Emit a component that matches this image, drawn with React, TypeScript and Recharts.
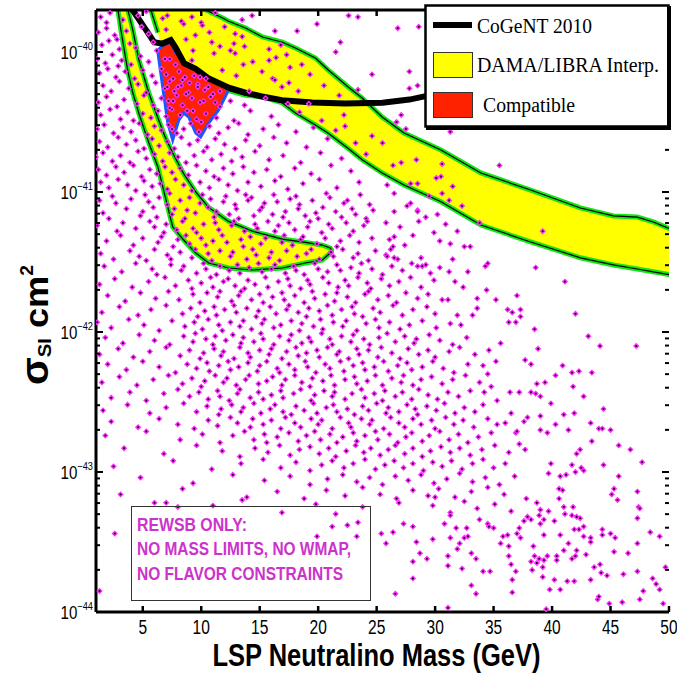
import { Area, ComposedChart, Line, Scatter, XAxis, YAxis } from "recharts"

const W = 677
const H = 673

const massTicks = [5, 10, 15, 20, 25, 30, 35, 40, 45, 50]
const decadeExponents = [-44, -43, -42, -41, -40]
const minorMultipliers = [2, 3, 4, 5, 6, 7, 8, 9]
const massDomain = [1, 50]
const logSigmaDomain = [-44, -39.7]

// CoGeNT 2010 curve: [mass GeV, log10 sigma]
const cogent2010 = [
	[3.9, -39.6], [4.13, -39.7], [5.26, -39.84], [5.97, -39.93], [6.68, -39.94], [7.39, -39.915],
	[7.82, -39.97], [8.53, -40.08], [9.52, -40.12], [10.66, -40.19], [12.36, -40.255], [13.78, -40.29],
	[15.2, -40.318], [16.9, -40.345], [19.5, -40.36], [22.3, -40.368], [25.5, -40.362], [27.8, -40.34],
	[29.5, -40.31], [31, -40.29],
]

// DAMA/LIBRA regions: [mass, log10 lower edge, log10 upper edge]
const damaUpperBand = [
	[5.69, -39.7, -39.6], [6.29, -39.86, -39.6], [6.88, -40.1, -39.6], [7.73, -40.35, -39.6],
	[9.01, -40.35, -39.6], [10.38, -40.32, -39.7], [11.83, -40.29, -39.757], [12.34, -40.275, -39.78],
	[13.79, -40.31, -39.829], [15.24, -40.321, -39.893], [16.94, -40.364, -39.93], [18.05, -40.436, -39.971],
	[19.76, -40.521, -40.043], [20.86, -40.58, -40.129], [22.57, -40.69, -40.25], [23.76, -40.77, -40.329],
	[25.47, -40.864, -40.464], [27.34, -40.95, -40.579], [30.5, -41.07, -40.7], [33.91, -41.236, -40.864],
	[38.17, -41.357, -40.986], [42.43, -41.47, -41.114], [45.25, -41.521, -41.171], [47.29, -41.55, -41.179],
	[48.66, -41.57, -41.214], [50, -41.59, -41.26], [50.6, -41.6, -41.27],
]

const damaLowerBand = [
	[2.88, -39.7, -39.6], [3.13, -39.843, -39.6], [3.56, -40.057, -39.6], [3.73, -40.14, -39.7],
	[4.15, -40.293, -39.843], [4.67, -40.44, -40.057], [5.52, -40.65, -40.293], [6.29, -40.821, -40.47],
	[6.88, -41.021, -40.6], [7.56, -41.25, -40.721], [8.5, -41.343, -40.87], [9.53, -41.436, -41.0],
	[10.63, -41.507, -41.11], [12.34, -41.543, -41.21], [14.38, -41.557, -41.28], [16.94, -41.543, -41.336],
	[18.9, -41.507, -41.36], [20.35, -41.486, -41.379], [21.03, -41.436, -41.4], [21.15, -41.42, -41.415],
]

const compatibleRegion = [
	[6.29, -40.0, -39.986], [6.8, -40.307, -39.95], [7.14, -40.507, -39.936], [7.39, -40.579, -39.929],
	[7.56, -40.629, -39.957], [7.82, -40.557, -40.007], [8.08, -40.486, -40.029], [8.5, -40.436, -40.071],
	[8.93, -40.464, -40.093], [9.53, -40.579, -40.114], [9.95, -40.607, -40.136], [10.63, -40.507, -40.186],
	[11.49, -40.414, -40.221], [12.34, -40.271, -40.257],
]

// model scan points, "mass,log10sigma"
const scanTop = `
1.4,-39.75 1.9,-39.79 2.2,-39.72 3.3,-39.77 4.6,-39.74 5.3,-39.71 6.7,-39.76 7.1,-39.74 8.3,-39.78 9.2,-39.75 10.0,-39.79 11.2,-39.72 13.5,-39.77
1.2,-39.86 1.9,-39.83 2.6,-39.88 3.6,-39.85 4.9,-39.82 5.5,-39.87 7.0,-39.84 8.5,-39.80 9.5,-39.88 10.1,-39.81 10.7,-39.86 12.0,-39.82 12.9,-39.87 13.5,-39.89
1.5,-39.95 2.1,-39.92 2.8,-39.91 3.0,-39.98 3.9,-39.94 4.4,-39.97 5.9,-39.93 6.2,-39.99 8.7,-39.91 9.3,-39.99 10.9,-39.93 11.6,-39.96 12.5,-39.99 12.8,-39.94 13.7,-39.96 15.8,-39.98 16.8,-39.95
1.1,-40.05 1.8,-40.08 2.4,-40.02 2.9,-40.10 3.2,-40.06 4.0,-40.09 4.8,-40.03 5.5,-40.07 7.3,-40.05 7.8,-40.09 9.2,-40.06 11.1,-40.01 12.9,-40.01 13.6,-40.09 14.4,-40.07 15.8,-40.06 16.4,-40.04 17.3,-40.02 18.6,-40.09
1.3,-40.15 2.0,-40.12 2.7,-40.18 3.5,-40.14 4.3,-40.19 5.0,-40.13 5.8,-40.17 6.6,-40.12 7.0,-40.16 7.6,-40.19 8.1,-40.14 8.6,-40.18 9.4,-40.17 10.4,-40.19 11.8,-40.13 13.0,-40.17 15.2,-40.14 16.1,-40.19 17.6,-40.11 19.3,-40.16
1.6,-40.24 2.3,-40.28 3.0,-40.21 3.8,-40.26 4.6,-40.23 5.3,-40.29 6.1,-40.22 6.9,-40.26 7.3,-40.21 7.7,-40.28 8.3,-40.24 8.9,-40.29 9.7,-40.23 10.3,-40.27 11.0,-40.30 14.1,-40.28 16.3,-40.20 16.9,-40.25 17.5,-40.22 18.3,-40.28 20.5,-40.24
1.2,-40.36 1.9,-40.32 2.8,-40.39 3.4,-40.34 4.5,-40.37 5.1,-40.31 5.9,-40.38 6.6,-40.33 7.2,-40.35 7.9,-40.31 8.4,-40.38 9.2,-40.33 9.9,-40.36 10.8,-40.32 11.6,-40.39 12.5,-40.35 13.7,-40.38 15.5,-40.33 17.4,-40.37 19.2,-40.37 21.8,-40.31
1.4,-40.45 2.2,-40.41 3.1,-40.48 3.7,-40.43 4.2,-40.49 5.0,-40.44 5.7,-40.47 6.3,-40.42 7.0,-40.46 7.5,-40.41 8.2,-40.45 8.8,-40.42 9.6,-40.48 10.4,-40.44 11.3,-40.47 12.8,-40.49 14.2,-40.42 16.0,-40.46 18.4,-40.43 20.3,-40.49 22.2,-40.45
`
const scanCompatible = `
6.9,-40.05 7.1,-40.25 7.3,-40.40 7.5,-40.55 8.0,-40.25 8.7,-40.30 9.0,-40.22 9.3,-40.42 9.7,-40.25 10.0,-40.50 10.2,-40.35 10.6,-40.25 11.2,-40.36 11.6,-40.28 7.6,-40.35 8.4,-40.20 9.9,-40.18
`
const scanAboveBand = `
14.35,-39.74 16.3,-39.85 18.2,-39.85 19.9,-39.80 21.9,-39.93 22.6,-39.74 23.4,-39.75 21.5,-40.00 24.6,-40.16 23.4,-40.27 26.8,-39.83 28.6,-39.82 27.8,-40.14 27.8,-40.26 28.5,-40.24
26.7,-40.50 27.1,-40.45 27.5,-40.55 31.3,-40.57 35.5,-40.81
25.5,-40.65 26.4,-40.81 27.1,-40.79 28.4,-40.77 30.6,-40.80 30.5,-40.89 30.1,-40.90 27.9,-40.94 28.5,-40.94 31.5,-40.96 30.6,-41.01 31.2,-41.06 32.3,-41.10 29.5,-41.03 26.5,-41.01 25.9,-40.95 27.9,-41.08 28.5,-41.13
`
const scanUpperMid = `
1.1,-40.55 1.7,-40.52 2.5,-40.58 3.3,-40.54 4.0,-40.57 4.7,-40.51 5.4,-40.59 6.0,-40.53 6.6,-40.56 7.2,-40.52 7.9,-40.58 8.5,-40.55 9.1,-40.51 9.8,-40.57 10.7,-40.53 11.5,-40.58 12.3,-40.54 13.2,-40.51 14.0,-40.59 15.3,-40.55 16.6,-40.52 18.1,-40.57 19.6,-40.54 21.5,-40.56 22.3,-40.53 24.6,-40.60
1.3,-40.64 2.0,-40.68 2.9,-40.61 3.6,-40.66 4.4,-40.63 5.1,-40.69 5.8,-40.62 6.4,-40.67 7.1,-40.64 7.7,-40.69 8.3,-40.61 9.0,-40.66 9.7,-40.63 10.5,-40.68 11.2,-40.62 12.0,-40.66 12.9,-40.69 13.8,-40.63 15.0,-40.67 16.2,-40.61 17.3,-40.65 19.0,-40.68 20.8,-40.62 23.2,-40.65
1.0,-40.75 1.6,-40.72 2.4,-40.78 3.1,-40.74 3.9,-40.79 4.6,-40.71 5.3,-40.76 6.0,-40.73 6.7,-40.78 7.3,-40.72 8.0,-40.75 8.7,-40.79 9.4,-40.74 10.2,-40.71 10.9,-40.77 11.7,-40.73 12.6,-40.78 13.5,-40.75 14.6,-40.71 15.8,-40.77 17.0,-40.74 18.5,-40.79 20.2,-40.72 22.0,-40.76 24.1,-40.73
1.2,-40.84 1.9,-40.88 2.7,-40.82 3.4,-40.86 4.2,-40.81 4.9,-40.89 5.6,-40.84 6.2,-40.87 6.9,-40.82 7.5,-40.86 8.2,-40.83 8.9,-40.88 9.6,-40.81 10.4,-40.85 11.1,-40.89 11.9,-40.83 12.7,-40.87 13.6,-40.82 14.5,-40.86 15.6,-40.84 16.8,-40.89 18.0,-40.83 19.4,-40.87 21.1,-40.81 22.8,-40.85
1.4,-40.93 2.1,-40.97 2.9,-40.91 3.7,-40.95 4.4,-40.99 5.1,-40.92 5.8,-40.96 6.5,-40.94 7.1,-40.98 7.8,-40.91 8.5,-40.95 9.2,-40.99 9.9,-40.93 10.7,-40.97 11.5,-40.91 12.3,-40.95 13.1,-40.99 14.0,-40.93 15.1,-40.96 16.3,-40.92 17.4,-40.98 18.7,-40.94 20.1,-40.91 21.6,-40.97 23.5,-40.93
`
const scanMid = `
1.3,-41.06 2.4,-41.03 2.7,-41.08 4.0,-41.05 5.2,-41.02 5.5,-41.07 6.4,-41.04 7.1,-41.09 7.3,-41.01 8.2,-41.06 9.0,-41.04 9.9,-41.08 10.1,-41.02 10.8,-41.05 11.9,-41.07 12.1,-41.03 12.9,-41.09 13.8,-41.02 14.0,-41.06 14.3,-41.04 15.4,-41.08 16.2,-41.02 16.5,-41.07 17.6,-41.05 18.1,-41.03 18.4,-41.09 19.5,-41.06 20.7,-41.01 21.0,-41.04 22.2,-41.08 22.5,-41.06 23.6,-41.02 24.4,-41.09
1.6,-41.15 2.1,-41.19 3.6,-41.12 4.8,-41.17 5.0,-41.14 5.9,-41.11 6.2,-41.18 7.5,-41.16 7.7,-41.12 8.6,-41.19 8.8,-41.13 9.5,-41.15 10.6,-41.11 11.1,-41.18 11.3,-41.14 12.4,-41.16 13.0,-41.12 13.2,-41.19 14.5,-41.17 15.0,-41.13 15.2,-41.11 16.1,-41.16 17.0,-41.18 17.2,-41.14 18.3,-41.12 18.9,-41.17 19.8,-41.15 20.0,-41.19 20.4,-41.11 21.5,-41.14 22.0,-41.18 22.9,-41.12 23.2,-41.16 24.1,-41.19 24.7,-41.13
1.1,-41.24 2.8,-41.28 3.3,-41.22 4.4,-41.26 5.6,-41.21 6.0,-41.25 6.8,-41.29 7.0,-41.23 7.9,-41.27 8.4,-41.21 9.3,-41.26 9.6,-41.29 10.2,-41.23 11.2,-41.22 11.5,-41.27 12.6,-41.24 12.8,-41.21 13.7,-41.28 14.6,-41.23 14.8,-41.26 15.7,-41.21 16.3,-41.28 16.6,-41.24 17.5,-41.22 18.0,-41.27 19.1,-41.25 19.3,-41.21 20.3,-41.29 20.9,-41.23 21.2,-41.26 22.4,-41.22 23.0,-41.28 23.9,-41.24 24.2,-41.21
1.9,-41.35 3.1,-41.31 4.2,-41.38 5.0,-41.33 6.3,-41.36 6.6,-41.32 7.6,-41.39 8.0,-41.34 8.7,-41.31 9.0,-41.37 10.0,-41.33 10.4,-41.38 11.0,-41.35 11.8,-41.31 12.2,-41.36 13.4,-41.34 13.6,-41.39 14.2,-41.32 15.1,-41.37 15.5,-41.33 16.9,-41.36 17.1,-41.31 17.8,-41.38 18.5,-41.34 18.7,-41.32 19.9,-41.37 20.6,-41.33 21.6,-41.39 21.9,-41.35 22.7,-41.31 23.5,-41.36 24.6,-41.33
1.4,-41.44 2.5,-41.48 3.9,-41.42 4.7,-41.46 5.3,-41.49 6.0,-41.41 7.1,-41.45 7.4,-41.48 8.2,-41.43 9.2,-41.47 9.5,-41.41 10.6,-41.44 10.9,-41.49 11.6,-41.42 12.5,-41.46 12.7,-41.43 13.9,-41.48 14.4,-41.41 14.7,-41.45 15.8,-41.47 16.0,-41.43 16.7,-41.49 17.3,-41.42 18.2,-41.46 19.0,-41.44 19.4,-41.41 20.1,-41.48 21.1,-41.43 21.3,-41.46 22.1,-41.41 23.0,-41.47 23.4,-41.44 24.3,-41.49 24.9,-41.42
1.7,-41.53 3.2,-41.57 4.4,-41.51 5.8,-41.55 6.2,-41.59 7.4,-41.52 8.3,-41.56 8.5,-41.53 9.6,-41.58 10.2,-41.51 10.4,-41.55 11.3,-41.59 11.6,-41.53 12.4,-41.56 13.1,-41.52 13.3,-41.58 14.1,-41.54 14.9,-41.51 15.2,-41.57 16.0,-41.55 16.3,-41.52 17.2,-41.58 17.9,-41.53 18.1,-41.56 18.8,-41.59 19.7,-41.51 20.0,-41.55 20.8,-41.57 21.6,-41.52 21.9,-41.56 22.8,-41.54 23.5,-41.58 23.7,-41.51 24.6,-41.55 25.5,-41.59 26.3,-41.53 27.2,-41.56 28.0,-41.51 29.6,-41.58 30.4,-41.54
1.3,-41.66 2.6,-41.62 4.1,-41.68 5.5,-41.64 6.9,-41.61 7.8,-41.67 8.9,-41.63 9.2,-41.69 10.0,-41.65 10.8,-41.61 11.0,-41.68 11.9,-41.64 12.3,-41.62 12.9,-41.67 13.7,-41.69 14.0,-41.63 14.6,-41.66 15.5,-41.61 15.7,-41.68 16.6,-41.64 17.4,-41.62 17.6,-41.67 18.5,-41.69 19.1,-41.63 19.3,-41.66 20.4,-41.61 20.9,-41.65 21.7,-41.68 22.3,-41.63 22.6,-41.67 23.4,-41.61 24.2,-41.65 24.5,-41.69 25.4,-41.62 26.1,-41.67 26.9,-41.64 27.9,-41.61 28.8,-41.68 29.9,-41.63
2.0,-41.74 3.5,-41.78 4.8,-41.72 6.1,-41.76 7.2,-41.71 8.1,-41.77 9.3,-41.73 9.9,-41.79 10.5,-41.72 11.4,-41.75 11.6,-41.71 12.6,-41.78 13.2,-41.74 13.4,-41.71 14.3,-41.77 15.0,-41.73 15.3,-41.79 16.1,-41.75 16.9,-41.72 17.1,-41.77 18.0,-41.74 18.8,-41.79 19.5,-41.71 19.7,-41.76 20.6,-41.73 21.4,-41.78 21.6,-41.72 22.5,-41.75 23.2,-41.79 24.0,-41.73 24.3,-41.71 25.1,-41.77 26.0,-41.74 26.7,-41.79 27.5,-41.72 28.5,-41.76 29.4,-41.73
1.5,-41.86 3.0,-41.82 4.6,-41.88 5.7,-41.84 7.0,-41.81 8.4,-41.87 9.1,-41.83 9.7,-41.89 10.3,-41.85 11.1,-41.82 11.3,-41.88 12.0,-41.84 12.8,-41.81 13.0,-41.86 13.9,-41.83 14.7,-41.89 14.9,-41.85 15.9,-41.82 16.4,-41.87 17.3,-41.84 17.5,-41.81 18.3,-41.86 19.0,-41.89 19.2,-41.83 20.1,-41.85 20.8,-41.81 21.2,-41.88 22.0,-41.84 22.9,-41.82 23.1,-41.87 23.8,-41.89 24.7,-41.83 25.3,-41.86 26.4,-41.81 27.2,-41.88 28.1,-41.84 29.3,-41.82 30.0,-41.87
1.1,-41.93 2.3,-41.97 3.8,-41.91 5.1,-41.95 6.4,-41.99 7.5,-41.92 8.6,-41.96 9.4,-41.93 10.1,-41.98 10.6,-41.91 11.5,-41.95 11.8,-41.99 12.5,-41.93 13.3,-41.96 13.6,-41.92 14.3,-41.98 15.2,-41.94 15.4,-41.91 16.2,-41.97 16.8,-41.95 17.7,-41.92 18.4,-41.99 18.6,-41.94 19.6,-41.96 20.2,-41.91 20.4,-41.98 21.3,-41.93 22.1,-41.96 22.4,-41.92 23.3,-41.99 24.1,-41.94 24.9,-41.91 25.2,-41.97 26.1,-41.93 27.0,-41.98 27.8,-41.95 28.9,-41.92 30.1,-41.97 31.3,-41.94
`
const scanRightMid = `
26.5,-41.14 25.8,-41.22 28.5,-41.14 28.6,-41.21 29.2,-41.18 30.9,-41.23 26.5,-41.32 26.1,-41.34 26.4,-41.39 28.1,-41.31 27.4,-41.38 26.2,-41.41 25.8,-41.45 25.9,-41.46 26.5,-41.47 26.8,-41.48
28.8,-41.47 28.5,-41.53 28.9,-41.53 29.2,-41.52 30.4,-41.35 31.9,-41.28 31.3,-41.37 31.5,-41.48 31.2,-41.57 32.8,-41.57 32.5,-41.39 33.0,-41.39 34.5,-41.51 34.3,-41.53 38.6,-41.54 39.2,-41.28
33.8,-41.22 27.0,-41.25 29.9,-41.29 27.6,-41.10 30.2,-41.16
41.1,-41.64 37.0,-41.74 42.0,-41.87 36.2,-41.84 36.6,-41.86 37.3,-41.84 37.3,-41.89 36.9,-41.93 36.3,-41.93 38.5,-41.98 43.1,-42.03 44.1,-42.10 47.2,-42.10 38.8,-42.12 37.7,-42.20 38.2,-42.23
40.9,-42.24 41.7,-42.29 42.3,-42.28 43.4,-42.29 40.3,-42.31 39.4,-42.36 38.7,-42.37 41.8,-42.39 38.2,-42.43 38.6,-42.44 39.0,-42.46 39.9,-42.51 42.7,-42.46 44.4,-42.55 37.2,-42.43 36.4,-42.43
35.3,-42.49 35.6,-42.08 35.2,-42.21 34.6,-42.13 34.1,-42.24 34.5,-42.30 34.8,-42.39 34.2,-42.43 33.6,-41.76 34.4,-41.70 31.7,-41.64 32.4,-41.68 31.1,-41.77 30.6,-41.77 33.6,-41.83 33.2,-41.88
32.2,-41.95 31.9,-41.88 35.2,-41.77
`
const scanLowMid = `
1.8,-42.04 3.3,-42.08 4.7,-42.02 6.0,-42.06 7.3,-42.09 8.5,-42.03 9.3,-42.07 9.5,-42.01 10.4,-42.05 11.0,-42.09 11.2,-42.03 12.1,-42.06 12.7,-42.02 13.4,-42.08 13.6,-42.04 14.5,-42.07 15.1,-42.01 15.3,-42.05 16.2,-42.09 16.7,-42.03 17.5,-42.06 17.7,-42.02 18.6,-42.08 19.2,-42.04 19.4,-42.07 20.3,-42.01 21.0,-42.05 21.2,-42.09 22.0,-42.03 22.8,-42.07 23.0,-42.02 23.9,-42.05 24.4,-42.09 25.2,-42.04 25.9,-42.01 26.6,-42.07 27.4,-42.03 28.2,-42.08 28.4,-42.05 29.5,-42.02 30.4,-42.06 31.5,-42.09 32.7,-42.04
1.3,-42.16 2.9,-42.12 4.2,-42.18 5.6,-42.14 7.0,-42.11 8.2,-42.17 9.0,-42.13 9.9,-42.19 10.2,-42.15 11.1,-42.12 11.7,-42.17 11.9,-42.14 12.8,-42.19 13.3,-42.11 14.0,-42.15 14.2,-42.18 15.0,-42.13 15.8,-42.16 16.0,-42.12 16.9,-42.19 17.3,-42.14 18.1,-42.11 18.3,-42.17 19.0,-42.15 19.9,-42.13 20.1,-42.18 20.8,-42.11 21.6,-42.16 21.8,-42.14 22.6,-42.19 23.3,-42.12 23.5,-42.16 24.3,-42.13 25.1,-42.18 25.4,-42.11 26.3,-42.15 27.0,-42.19 27.7,-42.12 28.6,-42.16 29.4,-42.13 30.0,-42.18 31.2,-42.14 32.1,-42.11 33.4,-42.16
2.0,-42.23 3.6,-42.27 5.0,-42.21 6.4,-42.25 7.8,-42.29 8.8,-42.23 9.6,-42.26 10.5,-42.22 10.7,-42.28 11.5,-42.24 12.3,-42.21 12.5,-42.27 13.2,-42.25 14.0,-42.22 14.8,-42.28 15.0,-42.24 15.6,-42.21 16.5,-42.26 16.7,-42.29 17.5,-42.23 18.0,-42.27 18.9,-42.21 19.1,-42.25 19.8,-42.29 20.6,-42.23 21.0,-42.26 21.9,-42.21 22.2,-42.28 23.0,-42.24 23.8,-42.22 24.0,-42.27 24.8,-42.25 25.6,-42.21 26.0,-42.28 26.8,-42.24 27.6,-42.22 28.0,-42.27 28.9,-42.25 29.8,-42.21 30.7,-42.26 31.6,-42.29 32.8,-42.23
1.5,-42.36 3.0,-42.32 4.5,-42.38 5.9,-42.34 7.2,-42.31 8.4,-42.37 9.2,-42.33 10.0,-42.39 10.3,-42.35 11.2,-42.31 11.9,-42.36 12.2,-42.33 13.0,-42.38 13.8,-42.34 14.1,-42.31 14.9,-42.37 15.6,-42.35 16.1,-42.32 16.9,-42.38 17.2,-42.34 18.0,-42.31 18.6,-42.36 19.3,-42.39 19.5,-42.33 20.4,-42.35 21.1,-42.31 21.4,-42.38 22.3,-42.34 23.1,-42.32 23.3,-42.37 24.2,-42.35 24.9,-42.31 25.5,-42.38 26.3,-42.33 27.1,-42.36 27.3,-42.31 28.1,-42.38 28.8,-42.34 29.7,-42.32 30.6,-42.37 31.5,-42.34 32.6,-42.31 33.8,-42.36
2.3,-42.47 3.9,-42.43 5.3,-42.49 6.8,-42.44 8.0,-42.41 9.0,-42.46 9.8,-42.43 10.6,-42.48 11.4,-42.42 11.6,-42.46 12.4,-42.49 13.1,-42.44 13.3,-42.41 14.2,-42.47 14.9,-42.43 15.3,-42.48 16.0,-42.45 16.8,-42.42 17.0,-42.47 17.9,-42.44 18.5,-42.41 19.4,-42.49 19.7,-42.45 20.5,-42.42 21.2,-42.46 21.4,-42.43 22.3,-42.48 22.9,-42.44 23.7,-42.41 24.0,-42.47 24.8,-42.44 25.5,-42.49 25.7,-42.42 26.6,-42.46 27.2,-42.43 28.0,-42.48 28.6,-42.41 29.4,-42.45 30.2,-42.48 31.1,-42.43 32.0,-42.46 33.0,-42.42
`
const scanLow = `
1.6,-42.56 3.7,-42.52 5.6,-42.58 7.0,-42.54 8.5,-42.51 9.6,-42.57 10.5,-42.53 11.5,-42.59 11.7,-42.55 12.6,-42.52 13.4,-42.57 13.6,-42.54 14.5,-42.51 15.1,-42.58 15.9,-42.55 16.3,-42.52 17.0,-42.57 17.7,-42.59 18.1,-42.53 18.8,-42.56 19.6,-42.51 19.9,-42.58 20.7,-42.54 21.3,-42.52 21.6,-42.57 22.5,-42.55 23.1,-42.59 23.8,-42.53 24.3,-42.56 25.0,-42.51 25.8,-42.58 26.0,-42.54 26.9,-42.57 27.6,-42.52 28.3,-42.55 28.5,-42.59 29.3,-42.53 30.1,-42.56 30.8,-42.51 31.7,-42.58 32.5,-42.54 33.4,-42.57 34.1,-42.52
2.3,-42.64 4.6,-42.68 6.4,-42.62 8.0,-42.66 9.4,-42.69 10.6,-42.63 11.4,-42.67 12.5,-42.61 13.1,-42.65 14.2,-42.68 14.4,-42.62 15.3,-42.66 16.0,-42.63 16.8,-42.69 17.2,-42.61 18.0,-42.65 18.5,-42.68 19.4,-42.62 20.0,-42.66 20.3,-42.63 21.2,-42.69 21.9,-42.61 22.6,-42.65 22.8,-42.68 23.7,-42.62 24.4,-42.66 24.6,-42.63 25.6,-42.69 26.2,-42.61 26.9,-42.65 27.4,-42.68 28.1,-42.62 28.8,-42.66 29.7,-42.63 30.0,-42.69 30.9,-42.61 31.6,-42.66 32.4,-42.63 33.3,-42.68 34.5,-42.62
1.8,-42.74 5.3,-42.71 8.2,-42.77 10.1,-42.73 11.6,-42.79 12.7,-42.74 13.7,-42.71 14.5,-42.77 15.4,-42.73 15.6,-42.79 16.5,-42.75 17.5,-42.72 18.3,-42.78 19.0,-42.74 19.7,-42.71 20.2,-42.77 21.0,-42.73 21.6,-42.79 22.1,-42.75 23.0,-42.72 23.3,-42.78 24.0,-42.74 24.9,-42.71 25.1,-42.77 26.1,-42.73 26.8,-42.79 27.5,-42.75 28.0,-42.72 28.9,-42.78 29.5,-42.74 30.4,-42.71 31.2,-42.77 32.0,-42.73 32.8,-42.79 33.7,-42.75 34.8,-42.72
3.4,-42.83 6.8,-42.87 9.6,-42.81 11.8,-42.85 13.3,-42.89 14.6,-42.83 15.7,-42.86 16.7,-42.81 17.6,-42.88 18.4,-42.84 19.3,-42.82 20.1,-42.87 20.9,-42.83 21.5,-42.89 22.4,-42.85 23.2,-42.81 23.9,-42.86 24.5,-42.83 25.3,-42.88 26.0,-42.84 26.6,-42.81 27.4,-42.87 28.1,-42.83 28.9,-42.89 29.6,-42.85 30.5,-42.82 31.3,-42.86 32.1,-42.83 33.0,-42.88 34.0,-42.84 35.1,-42.81 36.3,-42.86
2.5,-42.96 7.6,-42.92 10.9,-42.98 13.4,-42.94 15.3,-42.91 16.8,-42.97 18.1,-42.93 19.3,-42.99 20.3,-42.95 21.2,-42.92 22.2,-42.97 23.0,-42.94 24.0,-42.91 24.9,-42.98 25.7,-42.95 26.5,-42.92 27.3,-42.97 28.1,-42.94 29.0,-42.99 29.8,-42.93 30.6,-42.96 31.4,-42.92 32.3,-42.98 33.2,-42.94 34.1,-42.91 35.0,-42.97 36.0,-42.94
4.8,-43.04 9.3,-43.08 12.7,-43.02 15.4,-43.06 17.6,-43.03 19.3,-43.09 20.8,-43.05 22.1,-43.02 23.3,-43.07 24.4,-43.04 25.5,-43.09 26.6,-43.03 27.7,-43.06 28.8,-43.02 29.9,-43.08 31.0,-43.05 32.1,-43.01 33.2,-43.07 34.3,-43.04 35.5,-43.09 36.8,-43.03
3.1,-43.16 8.4,-43.12 13.9,-43.18 16.5,-43.14 18.8,-43.19 20.7,-43.13 22.3,-43.17 23.8,-43.11 25.3,-43.16 26.7,-43.19 28.1,-43.13 29.4,-43.17 30.3,-43.12 31.7,-43.18 33.1,-43.14 34.5,-43.11 35.9,-43.16
6.0,-43.22 7.0,-43.22 8.0,-43.25 13.5,-43.20 19.8,-43.23 16.9,-43.29 21.5,-43.30 22.5,-43.38 23.3,-43.46 19.9,-43.46 11.0,-43.24 23.8,-43.25 26.9,-43.22 31.3,-43.29 32.5,-43.21 33.6,-43.26
35.1,-43.23 36.5,-43.28 2.6,-43.44 1.3,-43.85 25.4,-43.44 23.4,-43.36 21.2,-43.39
`
const scanFarRight = `
43.3,-42.65 44.0,-42.69 44.3,-42.69 45.0,-42.70 43.4,-42.78 45.7,-42.81 46.7,-42.84 47.7,-42.93 44.4,-42.95 42.1,-42.87 42.4,-42.84 42.5,-42.97 42.7,-42.99 41.7,-42.95 42.0,-43.00 41.2,-43.02
40.7,-43.03 39.9,-42.94 39.7,-43.01 39.0,-42.70 39.6,-42.72 40.3,-42.66 41.0,-42.59 41.4,-42.70 41.9,-42.58 39.0,-42.60 37.9,-42.61 37.6,-42.64 37.7,-42.84 37.2,-42.80 36.9,-42.72 37.0,-42.71
36.5,-42.58 36.0,-42.65 35.3,-42.66 45.3,-43.12 45.7,-43.03 45.6,-43.20 45.1,-43.16 47.3,-43.14 47.4,-43.25 47.5,-43.26 47.3,-43.33 48.4,-43.43 49.2,-43.46 47.3,-43.51 46.5,-43.58 45.3,-43.57
44.3,-43.41 44.3,-43.45 45.0,-43.44 45.4,-43.47 43.3,-43.47 43.3,-43.50 42.7,-43.46 42.9,-43.59 42.1,-43.56 42.0,-43.60 41.7,-43.62 41.0,-43.56 40.4,-43.60 40.4,-43.63 41.9,-43.41 40.7,-43.45
41.4,-43.51 41.1,-43.30 40.2,-43.35 42.7,-43.39 42.4,-43.33 42.1,-43.32 42.3,-43.41 43.6,-43.68 44.1,-43.66 44.2,-43.72 44.7,-43.74 46.1,-43.73 47.3,-43.71 47.5,-43.91 47.8,-43.85 48.6,-43.76
48.9,-43.80 49.2,-43.84 49.7,-43.68 49.5,-43.94 46.0,-43.93 44.9,-43.94 43.9,-43.91 44.0,-43.89 43.3,-43.77 41.3,-43.78 41.9,-43.78 40.7,-43.84 40.2,-43.77 39.8,-43.84 39.5,-43.98 39.2,-43.68
39.2,-43.75 38.2,-43.64 38.5,-43.60 38.9,-43.62 39.3,-43.63 39.6,-43.60 38.3,-43.70 38.7,-43.65 25.8,-43.51 26.4,-43.43 27.3,-43.37 28.1,-43.39 28.1,-43.64 28.1,-43.76 26.6,-43.87 28.4,-43.50
28.7,-43.58 29.3,-43.62 29.8,-43.48 31.1,-43.60 31.1,-43.67 32.3,-43.69 33.1,-43.81 33.5,-43.87 34.1,-43.71 34.7,-43.71 36.6,-43.77 36.6,-43.86 36.9,-43.71 31.1,-43.97 31.9,-43.55 32.1,-43.51
32.5,-43.47 32.8,-43.46 33.1,-43.58 33.5,-43.62 32.7,-43.40 31.8,-43.40 31.3,-43.47 30.8,-43.37 30.0,-43.18 29.8,-43.24 31.3,-43.31 33.8,-43.34 34.5,-43.37 34.6,-43.39 35.0,-43.40 35.6,-43.51
35.8,-43.46 36.2,-43.45 36.3,-43.53 36.3,-43.60 36.5,-43.66 37.0,-43.44 37.2,-43.40 37.3,-43.47 37.6,-43.35 37.9,-43.32 38.4,-43.53 38.2,-43.34 38.9,-43.31 39.0,-43.37 39.3,-43.34 39.3,-43.45
37.8,-43.19 38.7,-43.22 39.0,-43.27 39.7,-43.28 40.6,-43.12 40.6,-43.19 40.9,-43.13 41.0,-43.25 41.8,-43.25 41.7,-43.31
`

const pow = (e: number) => 10 ** e
const SIGMA_MIN = pow(logSigmaDomain[0])
const SIGMA_MAX = pow(logSigmaDomain[1])

const sigmaTicks = decadeExponents.flatMap((d) =>
	d === -40 ? [pow(d)] : [pow(d), ...minorMultipliers.map((k) => k * pow(d))],
)

const parseScan = (text: string) =>
	text
		.trim()
		.split(/\s+/)
		.map((tok) => {
			const [m, e] = tok.split(",").map(Number)
			return { m, s: pow(e) }
		})

const scanData = [scanTop, scanCompatible, scanAboveBand, scanUpperMid, scanMid, scanRightMid, scanLowMid, scanLow, scanFarRight].flatMap(parseScan)

const toRange = (rows: number[][]) => rows.map(([m, lo, hi]) => ({ m, band: [pow(lo), pow(hi)] }))
const lowerEdge = (rows: number[][]) => rows.map(([m, lo]) => ({ m, s: pow(lo) }))
const upperEdge = (rows: number[][]) => rows.map(([m, , hi]) => ({ m, s: pow(hi) }))
const closedOutline = (rows: number[][]) => {
	const pts = [...lowerEdge(rows), ...upperEdge(rows).reverse()]
	return [...pts, pts[0]]
}

// the upper band's lower edge is hidden by the compatible region between 6.3 and 12.3 GeV
const upperBandOuter = upperEdge(damaUpperBand)
const upperBandInnerLeft = lowerEdge(damaUpperBand.filter(([m]) => m <= 6.3))
const upperBandInnerRight = lowerEdge(damaUpperBand.filter(([m]) => m >= 12.3))
const lowerBandOutline = [...lowerEdge(damaLowerBand), ...upperEdge(damaLowerBand).reverse()]
const cogentData = cogent2010.map(([m, e]) => ({ m, s: pow(e) }))

const AXIS_FONT = "'Liberation Sans', Arial, sans-serif"
const GREEN = "#14e614"

const isDecade = (v: number) => {
	const e = Math.log10(v)
	return Math.abs(e - Math.round(e)) < 1e-6
}

function SigmaTick(props: any) {
	const { x, y, payload, side } = props
	const v = payload.value
	const major = isDecade(v)
	const dir = side === "left" ? 1 : -1
	const len = major ? 7 : 4
	return (
		<g>
			<line x1={x} x2={x + dir * len} y1={y} y2={y} stroke="#000" strokeWidth={2} />
			{side === "left" && major && (
				<text
					transform={`translate(${x - 3},${y + 7}) scale(0.84,1)`}
					textAnchor="end"
					fontFamily={AXIS_FONT}
					fontSize={18}
					fill="#000"
				>
					10
					<tspan dy={-9} fontSize={11}>
						{"\u2212" + Math.abs(Math.round(Math.log10(v)))}
					</tspan>
				</text>
			)}
		</g>
	)
}

function MassTick(props: any) {
	const { x, y, payload, side } = props
	const dir = side === "bottom" ? -1 : 1
	return (
		<g>
			<line x1={x} x2={x} y1={y} y2={y + dir * 6} stroke="#000" strokeWidth={2.5} />
			{side === "bottom" && (
				<text
					transform={`translate(${x},${y + 22}) scale(0.74,1)`}
					textAnchor="middle"
					fontFamily={AXIS_FONT}
					fontSize={21}
					fill="#000"
				>
					{payload.value}
				</text>
			)}
		</g>
	)
}

function ScanMarker(props: any) {
	const { cx, cy } = props
	if (cx == null || cy == null) return null
	const r = 3.2
	return (
		<g>
			<path d={`M${cx},${cy - r}L${cx + r},${cy}L${cx},${cy + r}L${cx - r},${cy}Z`} fill="#ff2eff" />
			<rect x={cx - 0.9} y={cy - 0.9} width={1.8} height={1.8} fill="#200020" />
		</g>
	)
}

const MassTitle = (p: any) => {
	const vb = p.viewBox
	return (
		<text
			x={vb.x + vb.width / 2 - 6}
			y={vb.y + 54}
			textAnchor="middle"
			fontFamily={AXIS_FONT}
			fontWeight="bold"
			fontSize={31}
			textLength={328}
			lengthAdjust="spacingAndGlyphs"
			fill="#000"
		>
			LSP Neutralino Mass (GeV)
		</text>
	)
}

const SigmaTitle = (p: any) => {
	const vb = p.viewBox
	const cx = 48
	const cy = vb.y + vb.height / 2 + 14
	return (
		<text
			transform={`rotate(-90, ${cx}, ${cy})`}
			x={cx}
			y={cy}
			textAnchor="middle"
			fontFamily={AXIS_FONT}
			fontWeight="bold"
			fontSize={34}
			textLength={120}
			lengthAdjust="spacingAndGlyphs"
			fill="#000"
		>
			<tspan fontSize={38}>σ</tspan>
			<tspan fontSize={19} dy={3}>SI</tspan>
			<tspan dy={-3}>{"\u00a0cm"}</tspan>
			<tspan fontSize={18} dy={-15}>2</tspan>
		</text>
	)
}

const edgeLine = (data: any[], key: string, stroke: string, width: number) => (
	<Line key={key} data={data} dataKey="s" type="linear" stroke={stroke} strokeWidth={width} dot={false} activeDot={false} isAnimationActive={false} />
)

export default function App() {
	return (
		<div style={{ position: "absolute", left: 0, top: 0, width: W, height: H, background: "#fff" }}>
			<ComposedChart width={W} height={H} margin={{ top: 0, right: 0, bottom: 0, left: 0 }}>
				<XAxis
					type="number"
					dataKey="m"
					domain={massDomain}
					allowDataOverflow
					ticks={massTicks}
					interval={0}
					height={61}
					tickSize={0}
					tickMargin={0}
					tickLine={false}
					axisLine={{ stroke: "#000", strokeWidth: 3 }}
					tick={(p: any) => <MassTick {...p} side="bottom" />}
					label={{ content: MassTitle }}
				/>
				<XAxis
					xAxisId="top"
					orientation="top"
					type="number"
					dataKey="m"
					domain={massDomain}
					allowDataOverflow
					ticks={massTicks}
					interval={0}
					height={10}
					tickSize={0}
					tickMargin={0}
					tickLine={false}
					axisLine={{ stroke: "#000", strokeWidth: 3 }}
					tick={(p: any) => <MassTick {...p} side="top" />}
				/>
				<YAxis
					type="number"
					dataKey="s"
					scale="log"
					domain={[SIGMA_MIN, SIGMA_MAX]}
					allowDataOverflow
					ticks={sigmaTicks}
					interval={0}
					width={96}
					tickSize={0}
					tickMargin={0}
					tickLine={false}
					axisLine={{ stroke: "#000", strokeWidth: 3 }}
					tick={(p: any) => <SigmaTick {...p} side="left" />}
					label={{ content: SigmaTitle }}
				/>
				<YAxis
					yAxisId="right"
					orientation="right"
					type="number"
					dataKey="s"
					scale="log"
					domain={[SIGMA_MIN, SIGMA_MAX]}
					allowDataOverflow
					ticks={sigmaTicks}
					interval={0}
					width={8}
					tickSize={0}
					tickMargin={0}
					tickLine={false}
					axisLine={false}
					tick={(p: any) => <SigmaTick {...p} side="right" />}
				/>

				<Area data={toRange(damaUpperBand)} dataKey="band" type="linear" fill="#ffff00" fillOpacity={1} stroke="none" activeDot={false} isAnimationActive={false} />
				<Area data={toRange(damaLowerBand)} dataKey="band" type="linear" fill="#ffff00" fillOpacity={1} stroke="none" activeDot={false} isAnimationActive={false} />
				<Area data={toRange(compatibleRegion)} dataKey="band" type="linear" fill="#ff2200" fillOpacity={1} stroke="none" activeDot={false} isAnimationActive={false} />
				{edgeLine(upperBandOuter, "uo-g", GREEN, 5)}
				{edgeLine(upperBandOuter, "uo-k", "#000", 1.2)}
				{edgeLine(upperBandInnerLeft, "uil-g", GREEN, 5)}
				{edgeLine(upperBandInnerLeft, "uil-k", "#000", 1.2)}
				{edgeLine(upperBandInnerRight, "uir-g", GREEN, 5)}
				{edgeLine(upperBandInnerRight, "uir-k", "#000", 1.2)}
				{edgeLine(lowerBandOutline, "lb-g", GREEN, 5)}
				{edgeLine(lowerBandOutline, "lb-k", "#000", 1.2)}
				{edgeLine(closedOutline(compatibleRegion), "cr-b", "#1f55ff", 3)}
				{edgeLine(cogentData, "cogent", "#000", 6)}
				<Scatter data={scanData} dataKey="s" shape={(p: any) => <ScanMarker {...p} />} isAnimationActive={false} />
			</ComposedChart>

			<svg width={W} height={H} style={{ position: "absolute", left: 0, top: 0, pointerEvents: "none" }}>
				<g>
					<rect x={425.5} y={5.5} width={243} height={121} fill="#fff" stroke="#000" strokeWidth={2.5} />
					<line x1={669} y1={6} x2={669} y2={129} stroke="#000" strokeWidth={4} />
					<line x1={426} y1={128} x2={671} y2={128} stroke="#000" strokeWidth={4} />
					<line x1={433} y1={25} x2={472} y2={25} stroke="#000" strokeWidth={6} />
					<rect x={433.5} y={52.5} width={39} height={25} fill="#ffff00" stroke="#333" strokeWidth={1} />
					<rect x={433.5} y={92.5} width={39} height={25} fill="#ff2200" stroke="#333" strokeWidth={1} />
					<text x={477} y={33} fontFamily="'Liberation Serif', 'Times New Roman', serif" fontSize={20} textLength={115} lengthAdjust="spacingAndGlyphs" fill="#000">
						CoGeNT 2010
					</text>
					<text x={477} y={72} fontFamily="'Liberation Serif', 'Times New Roman', serif" fontSize={20} textLength={182} lengthAdjust="spacingAndGlyphs" fill="#000">
						DAMA/LIBRA Interp.
					</text>
					<text x={483} y={112} fontFamily="'Liberation Serif', 'Times New Roman', serif" fontSize={20} textLength={92} lengthAdjust="spacingAndGlyphs" fill="#000">
						Compatible
					</text>
				</g>
				<g>
					<rect x={131.5} y={506.5} width={239} height={94} fill="none" stroke="#333" strokeWidth={1} />
					<g fontFamily={AXIS_FONT} fontWeight="bold" fontSize={18} fill="#cc33cc">
						<text x={137} y={531} textLength={110} lengthAdjust="spacingAndGlyphs">REWSB ONLY:</text>
						<text x={137} y={555} textLength={214} lengthAdjust="spacingAndGlyphs">NO MASS LIMITS, NO WMAP,</text>
						<text x={137} y={580} textLength={206} lengthAdjust="spacingAndGlyphs">NO FLAVOR CONSTRAINTS</text>
					</g>
				</g>
			</svg>
		</div>
	)
}
